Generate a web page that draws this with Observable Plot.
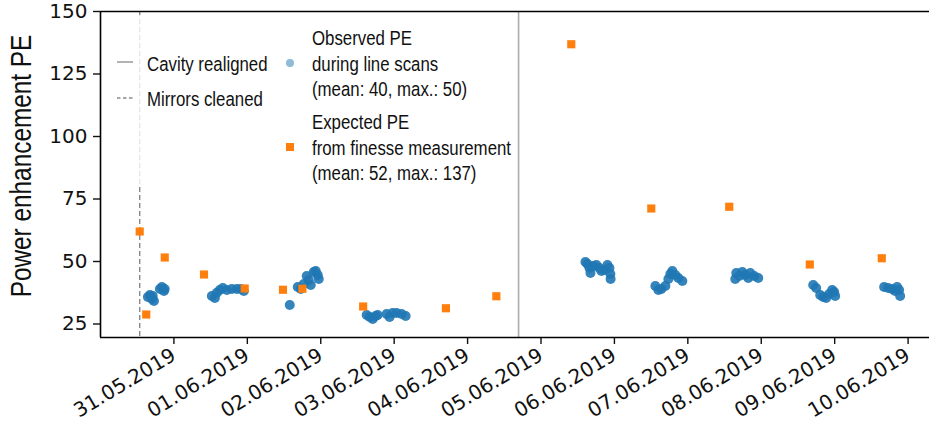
<!DOCTYPE html>
<html>
<head>
<meta charset="utf-8">
<script src="https://cdn.jsdelivr.net/npm/d3@7"></script>
<script src="https://cdn.jsdelivr.net/npm/@observablehq/plot@0.6"></script>
<style>
  body { margin: 0; background: #fff; }
  #wrap { position: relative; width: 929px; height: 430px; overflow: hidden; }
  .legend { position: absolute; left: 106px; top: 15px; width: 410px; height: 171px;
    background: rgba(255,255,255,0.8);
    font-family: "Liberation Sans", Arial, sans-serif; font-size: 20.5px; color: #111; }
  .legend .item { position: absolute; white-space: nowrap; line-height: 25.5px;
    transform: scaleX(0.82); transform-origin: 0 50%; }
  .legend svg { position: absolute; overflow: visible; }
  .ylab { position: absolute; left: 21px; top: 166px; white-space: nowrap;
    font-family: "Liberation Sans", Arial, sans-serif; font-size: 29px; color: #111; line-height: 1;
    transform: translate(-50%, -50%) rotate(-90deg) scaleX(0.84); }
</style>
</head>
<body>
<div id="wrap"></div>
<script>
// ---- data ----
const yLabel = "Power enhancement PE";
const tickDates = ["2019-05-31","2019-06-01","2019-06-02","2019-06-03","2019-06-04","2019-06-05",
                   "2019-06-06","2019-06-07","2019-06-08","2019-06-09","2019-06-10"];
const yTicks = [25, 50, 75, 100, 125, 150];
const xDomain = ["2019-05-30T00:00", "2019-06-10T07:00"];
const yDomain = [19.6, 150];

const eventNames = ["Cavity realigned", "Mirrors cleaned"];
const eventTimes = ["2019-06-04T16:40", "2019-05-30T12:49"];

const observedLabel = ["Observed PE", "during line scans", "(mean: 40, max.: 50)"];
const observedTimes = [
  "2019-05-30T15:30","2019-05-30T16:10","2019-05-30T16:50","2019-05-30T17:28","2019-05-30T17:04",
  "2019-05-30T19:25","2019-05-30T20:05","2019-05-30T20:44","2019-05-30T20:59",
  "2019-05-31T12:24","2019-05-31T13:23","2019-05-31T14:02","2019-05-31T15:01","2019-05-31T16:00",
  "2019-05-31T17:18","2019-05-31T18:56","2019-05-31T20:34","2019-05-31T21:52","2019-05-31T22:51",
  "2019-06-01T13:52","2019-06-01T16:29","2019-06-01T17:28","2019-06-01T18:27","2019-06-01T19:25",
  "2019-06-01T20:05","2019-06-01T20:44","2019-06-01T21:43","2019-06-01T22:22","2019-06-01T23:01",
  "2019-06-01T23:21",
  "2019-06-02T15:01","2019-06-02T16:00","2019-06-02T16:59","2019-06-02T17:57","2019-06-02T18:36",
  "2019-06-02T21:33","2019-06-02T22:31","2019-06-02T23:30","2019-06-03T00:48","2019-06-03T02:26",
  "2019-06-03T03:45",
  "2019-06-05T14:32","2019-06-05T15:11","2019-06-05T15:50","2019-06-05T16:10","2019-06-05T17:08",
  "2019-06-05T18:07","2019-06-05T19:06","2019-06-05T19:45","2019-06-05T20:44","2019-06-05T21:43",
  "2019-06-05T22:22","2019-06-05T22:41","2019-06-05T22:45",
  "2019-06-06T13:23","2019-06-06T14:22","2019-06-06T15:21","2019-06-06T16:39","2019-06-06T17:38",
  "2019-06-06T18:17","2019-06-06T18:56","2019-06-06T19:55","2019-06-06T20:54","2019-06-06T22:12",
  "2019-06-07T15:30","2019-06-07T15:50","2019-06-07T16:49","2019-06-07T17:48","2019-06-07T18:47",
  "2019-06-07T19:45","2019-06-07T20:25","2019-06-07T21:43","2019-06-07T23:01",
  "2019-06-08T16:59","2019-06-08T17:57","2019-06-08T19:16","2019-06-08T20:14","2019-06-08T21:13",
  "2019-06-08T22:12","2019-06-08T23:11","2019-06-08T23:50","2019-06-09T00:10",
  "2019-06-09T16:10","2019-06-09T17:28","2019-06-09T18:47","2019-06-09T19:45","2019-06-09T20:25",
  "2019-06-09T21:04","2019-06-09T21:24"
];
const observedValues = [
  35.8, 36.6, 35.0, 34.2, 36.2, 39.0, 39.8, 38.2, 39.0,
  36.2, 35.4, 37.5, 38.6, 39.4, 38.6, 39.0, 39.0, 39.0, 38.2,
  32.6, 39.8, 39.0, 41.0, 44.2, 42.6, 40.6, 45.8, 46.2, 44.6, 43.0,
  28.6, 27.8, 27.0, 28.2, 28.6, 29.0, 27.8, 29.4, 29.4, 29.0, 28.2,
  49.8, 49.0, 47.4, 45.4, 48.2, 48.6, 47.4, 46.2, 46.6, 48.6, 47.4, 45.0, 43.0,
  40.2, 38.6, 39.0, 40.2, 43.0, 45.0, 46.2, 44.6, 43.4, 42.2,
  43.0, 45.4, 44.2, 45.8, 44.6, 43.4, 45.4, 44.2, 43.4,
  40.6, 39.4, 36.6, 35.8, 35.4, 37.0, 38.6, 37.8, 36.2,
  39.8, 39.4, 39.0, 38.2, 39.8, 38.6, 36.2
];

const expectedLabel = ["Expected PE", "from finesse measurement", "(mean: 52, max.: 137)"];
const expectedTimes = [
  "2019-05-30T12:49","2019-05-30T14:57","2019-05-30T21:00","2019-05-31T09:50","2019-05-31T23:08",
  "2019-06-01T11:39","2019-06-01T18:00","2019-06-02T13:52","2019-06-03T16:55","2019-06-04T09:24",
  "2019-06-05T09:54","2019-06-06T12:03","2019-06-07T13:32","2019-06-08T15:52","2019-06-09T15:24"
];
const expectedValues = [62.0, 28.8, 51.6, 44.8, 39.2, 38.7, 39.1, 32.0, 31.3, 36.1,
                        136.9, 71.2, 71.9, 48.8, 51.3];

// ---- build ----
const T = s => new Date(s.length === 10 ? s + "T00:00Z" : s + "Z");
const observed = observedTimes.map((t, i) => ({t: T(t), v: observedValues[i]}));
const expected = expectedTimes.map((t, i) => ({t: T(t), v: expectedValues[i]}));
const events = eventNames.map((n, i) => ({name: n, t: T(eventTimes[i])}));

const blue = "#1f77b4", orange = "#ff7f0e";
const tickFont = "'DejaVu Sans', sans-serif";

const chart = Plot.plot({
  width: 929, height: 430,
  marginLeft: 100, marginRight: 0, marginTop: 11, marginBottom: 93,
  style: {fontFamily: tickFont, fontSize: "20px", color: "#111", background: "#fff", overflow: "visible"},
  x: {type: "utc", domain: xDomain.map(T)},
  y: {domain: yDomain},
  marks: [
    Plot.ruleX(events.filter(d => d.name === "Mirrors cleaned"), {x: "t", stroke: "#8a8a8a", strokeWidth: 1.4, strokeDasharray: "5,3"}),
    Plot.ruleX(events.filter(d => d.name === "Cavity realigned"), {x: "t", stroke: "#acacac", strokeWidth: 1.6}),
    Plot.dot(observed, {x: "t", y: "v", r: 5, fill: blue, fillOpacity: 0.9, stroke: "none"}),
    Plot.dot(expected, {x: "t", y: "v", r: 4.6, symbol: "square", fill: orange, stroke: "none"}),
    Plot.axisY({ticks: yTicks, tickSize: 7, tickPadding: 6, label: null, fontSize: 20, strokeWidth: 1.4}),
    Plot.axisX({ticks: tickDates.map(T), tickFormat: d3.utcFormat("%d.%m.%Y"), tickSize: 7, tickPadding: 9,
                tickRotate: -31, label: null, fontSize: 20, strokeWidth: 1.4}),
    Plot.ruleY([yDomain[0]], {stroke: "#000", strokeWidth: 1.6}),
    Plot.ruleY([yDomain[1]], {stroke: "#000", strokeWidth: 1.6}),
    Plot.ruleX([T(xDomain[0])], {stroke: "#000", strokeWidth: 1.6})
  ]
});

const wrap = document.getElementById("wrap");
wrap.appendChild(chart);

// y-axis title (narrow face emulated)
const yl = document.createElement("div");
yl.className = "ylab";
yl.textContent = yLabel;
wrap.appendChild(yl);

// legend overlay (semi-transparent box like matplotlib)
const lg = document.createElement("div");
lg.className = "legend";
lg.innerHTML = `
  <svg style="left:11px;top:47px" width="16" height="2"><line x1="0" x2="16" y1="0" y2="0" stroke="#8a8a8a" stroke-width="1.3"/></svg>
  <div class="item" style="left:41px;top:36px">${eventNames[0]}</div>
  <svg style="left:11px;top:83px" width="16" height="2"><line x1="0" x2="16" y1="0" y2="0" stroke="#8a8a8a" stroke-width="1.3" stroke-dasharray="3.5,2.5"/></svg>
  <div class="item" style="left:41px;top:71px">${eventNames[1]}</div>
  <svg style="left:184px;top:48px" width="2" height="2"><circle cx="0" cy="0" r="4" fill="${blue}" fill-opacity="0.5"/></svg>
  <div class="item" style="left:206px;top:10px">${observedLabel.join("<br>")}</div>
  <svg style="left:184px;top:132px" width="2" height="2"><rect x="-4" y="-4" width="8" height="8" fill="${orange}"/></svg>
  <div class="item" style="left:206px;top:94px">${expectedLabel.join("<br>")}</div>
`;
wrap.appendChild(lg);
</script>
</body>
</html>
